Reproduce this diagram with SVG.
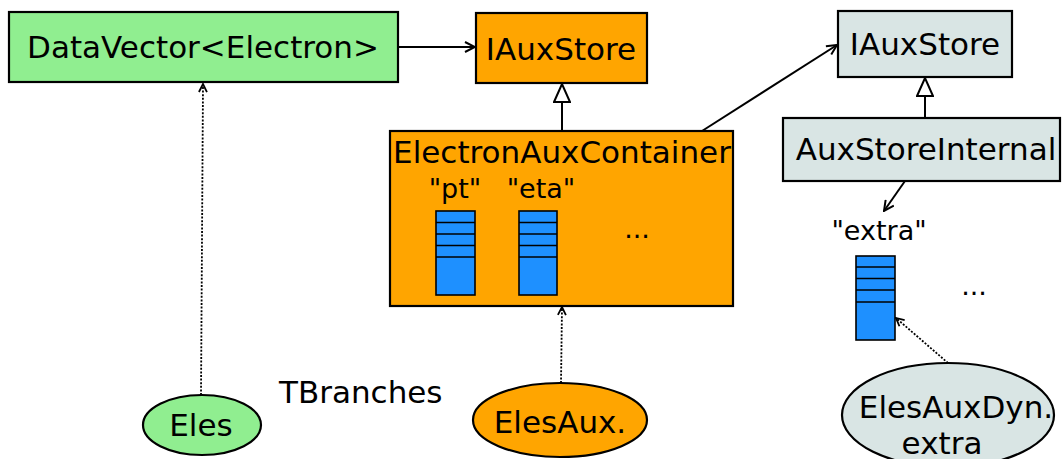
<svg xmlns="http://www.w3.org/2000/svg" width="1062" height="459" viewBox="0 0 1062 459">
<style>
  .box { stroke: #000; stroke-width: 2.2; }
  .green { fill: #90EE90; }
  .orange { fill: #FFA500; }
  .grey { fill: #D9E5E4; }
  .col { fill: #1E90FF; stroke: #000; stroke-width: 1.6; }
  .stripe { stroke: #000; stroke-width: 1.6; }
  text { font-family: "DejaVu Sans", sans-serif; font-size: 31px; fill: #000; }
  .t { text-anchor: middle; }
  .small { font-size: 27px; }
  .conn { stroke: #000; stroke-width: 2; fill: none; }
  .dot { stroke: #000; stroke-width: 1.8; fill: none; stroke-dasharray: 2 1.6; }
</style>
<defs>
  <marker id="open" viewBox="0 0 12 12" refX="11" refY="6" markerWidth="12" markerHeight="12" markerUnits="userSpaceOnUse" orient="auto">
    <path d="M1,1 L11,6 L1,11" fill="none" stroke="#000" stroke-width="2"/>
  </marker>
  <marker id="opensmall" viewBox="0 0 10 10" refX="9" refY="5" markerWidth="10" markerHeight="10" markerUnits="userSpaceOnUse" orient="auto">
    <path d="M1,1 L9,5 L1,9" fill="none" stroke="#000" stroke-width="1.8"/>
  </marker>
  <marker id="tri" viewBox="0 0 20 18" refX="19" refY="9" markerWidth="20" markerHeight="18" markerUnits="userSpaceOnUse" orient="auto">
    <path d="M1,1 L19,9 L1,17 Z" fill="#fff" stroke="#000" stroke-width="2"/>
  </marker>
</defs>

<g id="connectors">
  <line class="conn" x1="398" y1="47" x2="475" y2="47" marker-end="url(#open)"/>
  <line class="conn" x1="562" y1="131" x2="562" y2="84" marker-end="url(#tri)"/>
  <line class="conn" x1="702" y1="131" x2="837" y2="45" marker-end="url(#open)"/>
  <line class="conn" x1="925" y1="118" x2="925" y2="78" marker-end="url(#tri)"/>
  <line class="conn" x1="905" y1="181" x2="884" y2="211" marker-end="url(#open)"/>
  <line class="dot" x1="201" y1="395" x2="203" y2="84" marker-end="url(#opensmall)"/>
  <line class="dot" x1="561" y1="383" x2="562" y2="307" marker-end="url(#opensmall)"/>
  <line class="dot" x1="948" y1="363" x2="896" y2="318" marker-end="url(#opensmall)"/>
</g>

<g id="datavector">
  <rect class="box green" x="9" y="12" width="389" height="70"/>
  <text class="t" x="203" y="58">DataVector&lt;Electron&gt;</text>
</g>

<g id="iauxstore1">
  <rect class="box orange" x="476" y="13" width="171" height="70"/>
  <text class="t" x="561" y="60">IAuxStore</text>
</g>

<g id="electronauxcontainer">
  <rect class="box orange" x="390" y="131" width="343" height="175"/>
  <text class="t" x="562" y="163">ElectronAuxContainer</text>
  <text class="t small" x="455" y="198">"pt"</text>
  <text class="t small" x="541" y="198">"eta"</text>
  <g id="col-pt">
    <rect class="col" x="436" y="211" width="39" height="84"/>
    <line class="stripe" x1="436" y1="222.5" x2="475" y2="222.5"/>
    <line class="stripe" x1="436" y1="234" x2="475" y2="234"/>
    <line class="stripe" x1="436" y1="245.5" x2="475" y2="245.5"/>
    <line class="stripe" x1="436" y1="257" x2="475" y2="257"/>
  </g>
  <g id="col-eta">
    <rect class="col" x="519" y="211" width="38" height="84"/>
    <line class="stripe" x1="519" y1="222.5" x2="557" y2="222.5"/>
    <line class="stripe" x1="519" y1="234" x2="557" y2="234"/>
    <line class="stripe" x1="519" y1="245.5" x2="557" y2="245.5"/>
    <line class="stripe" x1="519" y1="257" x2="557" y2="257"/>
  </g>
  <text class="t small" x="637" y="238">...</text>
</g>

<g id="iauxstore2">
  <rect class="box grey" x="838" y="11" width="174" height="66"/>
  <text class="t" x="925" y="55">IAuxStore</text>
</g>

<g id="auxstoreinternal">
  <rect class="box grey" x="783" y="118" width="277" height="63"/>
  <text class="t" x="926" y="160">AuxStoreInternal</text>
</g>

<g id="extra">
  <text class="t small" x="879" y="240">"extra"</text>
  <rect class="col" x="856" y="256" width="39" height="84"/>
  <line class="stripe" x1="856" y1="267" x2="895" y2="267"/>
  <line class="stripe" x1="856" y1="278.5" x2="895" y2="278.5"/>
  <line class="stripe" x1="856" y1="290" x2="895" y2="290"/>
  <line class="stripe" x1="856" y1="302" x2="895" y2="302"/>
  <text class="t small" x="974" y="295">...</text>
</g>

<g id="eles">
  <ellipse class="box green" cx="202" cy="425" rx="59" ry="30"/>
  <text class="t" x="201" y="436">Eles</text>
</g>

<text id="tbranches" x="279" y="403">TBranches</text>

<g id="elesaux">
  <ellipse class="box orange" cx="560" cy="420" rx="87" ry="37"/>
  <text class="t" x="560" y="433">ElesAux.</text>
</g>

<g id="elesauxdyn">
  <ellipse class="box grey" cx="948" cy="415" rx="106" ry="52"/>
  <text class="t" x="956" y="418">ElesAuxDyn.</text>
  <text class="t" x="942" y="454">extra</text>
</g>
</svg>
